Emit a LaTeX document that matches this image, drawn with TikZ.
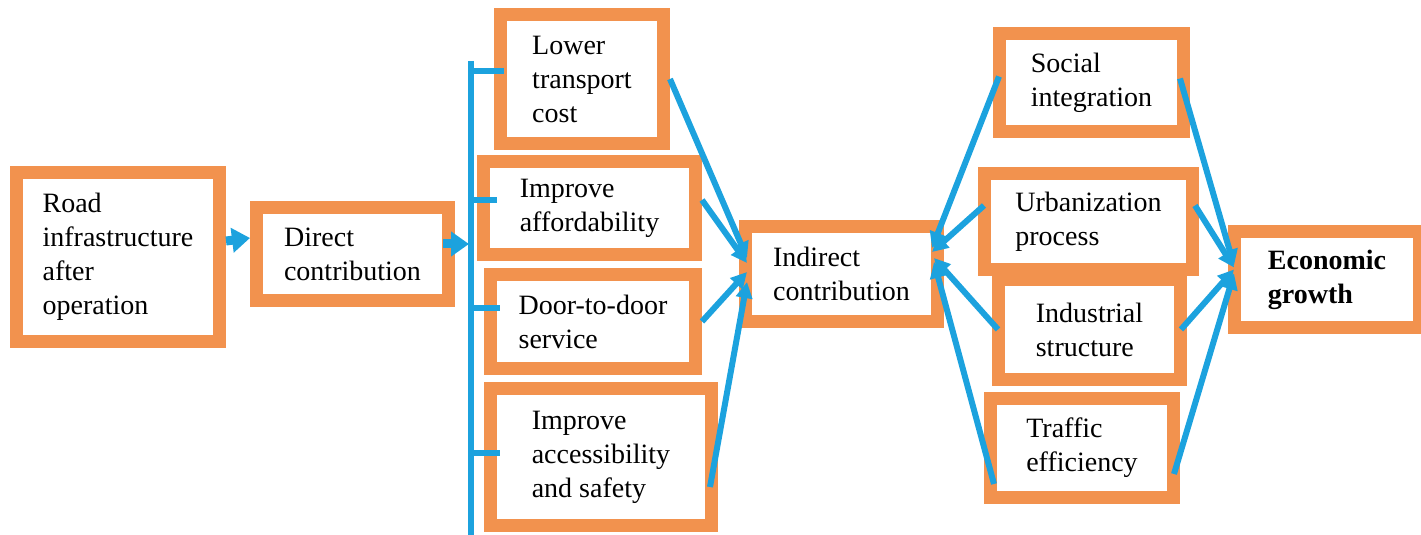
\documentclass[tikz,border=0pt]{standalone}
\usepackage{fontspec}
\setmainfont{Liberation Serif}
\usetikzlibrary{arrows.meta}
\definecolor{boxorange}{RGB}{242,146,78}
\definecolor{linkblue}{RGB}{28,162,222}

\begin{document}
\begin{tikzpicture}[x=0.5pt,y=-0.5pt,
  box/.style={draw=boxorange,line width=6.5pt,fill=white,align=left,inner sep=0pt,font=\fontsize{14}{17}\selectfont},
  link/.style={draw=linkblue,line width=3pt,-{Triangle[length=8pt,width=8pt]}},
  fat/.style={draw=linkblue,line width=4.5pt,-{Triangle[length=9pt,width=12pt]}},
  tick/.style={draw=linkblue,line width=3pt}]
\useasboundingbox (0,0) rectangle (1421,535);
\node[box,minimum width=101.5pt,minimum height=84.5pt] (road) at (118,257) {Road\\infrastructure\\after\\operation};
\node[box,minimum width=96pt,minimum height=46.5pt] (direct) at (352.5,254) {Direct\\contribution};
\node[box,minimum width=81.5pt,minimum height=64.5pt] (lower) at (582,79) {Lower\\transport\\cost};
\node[box,minimum width=106pt,minimum height=46.5pt] (afford) at (589.5,208) {Improve\\affordability};
\node[box,minimum width=102.5pt,minimum height=47pt] (door) at (593,321.5) {Door-to-door\\service};
\node[box,minimum width=110.5pt,minimum height=68.5pt] (access) at (601,457) {Improve\\accessibility\\and safety};
\node[box,minimum width=96pt,minimum height=47.5pt] (indirect) at (841.5,274) {Indirect\\contribution};
\node[box,minimum width=92pt,minimum height=49pt] (social) at (1091.5,82.5) {Social\\integration};
\node[box,minimum width=104pt,minimum height=48pt] (urban) at (1088.5,221.5) {Urbanization\\process};
\node[box,minimum width=91pt,minimum height=50pt] (indus) at (1089.5,329.5) {Industrial\\structure};
\node[box,minimum width=91.5pt,minimum height=49.5pt] (traffic) at (1082,448) {Traffic\\efficiency};
\node[box,minimum width=92.5pt,minimum height=48pt] (econ) at (1327,279.5) {\textbf{Economic}\\\textbf{growth}};
\coordinate (bustop) at (471,61);
\coordinate (busend) at (471,540);
\coordinate (hub) at (469,244);
\coordinate (t1) at (471,71);
\coordinate (t2) at (471,200);
\coordinate (t3) at (471,308);
\coordinate (t4) at (471,453);
\draw[fat] ([yshift=8pt]road.east) -- ([yshift=8pt]direct.west);
\draw[tick] (bustop) -- (busend);
\draw[fat] ([xshift=-6pt,yshift=5pt]direct.east) -- (hub);
\draw[tick,shorten >=-5pt] (t1) -- (t1 -| lower.west);
\draw[tick,shorten >=-10pt] (t2) -- (t2 -| afford.west);
\draw[tick,shorten >=-8pt] (t3) -- (t3 -| door.west);
\draw[tick,shorten >=-8pt] (t4) -- (t4 -| access.west);
\draw[link] (lower.east) -- ([xshift=4pt,yshift=8pt]indirect.west);
\draw[link] ([yshift=4pt]afford.east) -- ([xshift=4pt,yshift=5.5pt]indirect.west);
\draw[link] (door.east) -- ([xshift=4pt,yshift=1pt]indirect.west);
\draw[link] ([xshift=-4pt,yshift=-15pt]access.east) -- ([xshift=4pt,yshift=-4pt]indirect.west);
\draw[link] ([xshift=3pt,yshift=3pt]social.west) -- ([xshift=-6pt,yshift=13pt]indirect.east);
\draw[link] ([xshift=3pt,yshift=8pt]urban.west) -- ([xshift=-6pt,yshift=11pt]indirect.east);
\draw[link] ([xshift=3pt]indus.west) -- ([xshift=-5pt,yshift=8pt]indirect.east);
\draw[link] ([xshift=5pt,yshift=-18pt]traffic.west) -- ([xshift=-5pt,yshift=6pt]indirect.east);
\draw[link] ([xshift=-5pt,yshift=2pt]social.east) -- ([xshift=3pt,yshift=7pt]econ.west);
\draw[link] ([xshift=-2pt,yshift=8pt]urban.east) -- ([xshift=3pt,yshift=6pt]econ.west);
\draw[link] ([xshift=-3pt]indus.east) -- ([xshift=3pt,yshift=5pt]econ.west);
\draw[link] ([xshift=-3pt,yshift=-13pt]traffic.east) -- ([xshift=3pt,yshift=3pt]econ.west);
\end{tikzpicture}
\end{document}
